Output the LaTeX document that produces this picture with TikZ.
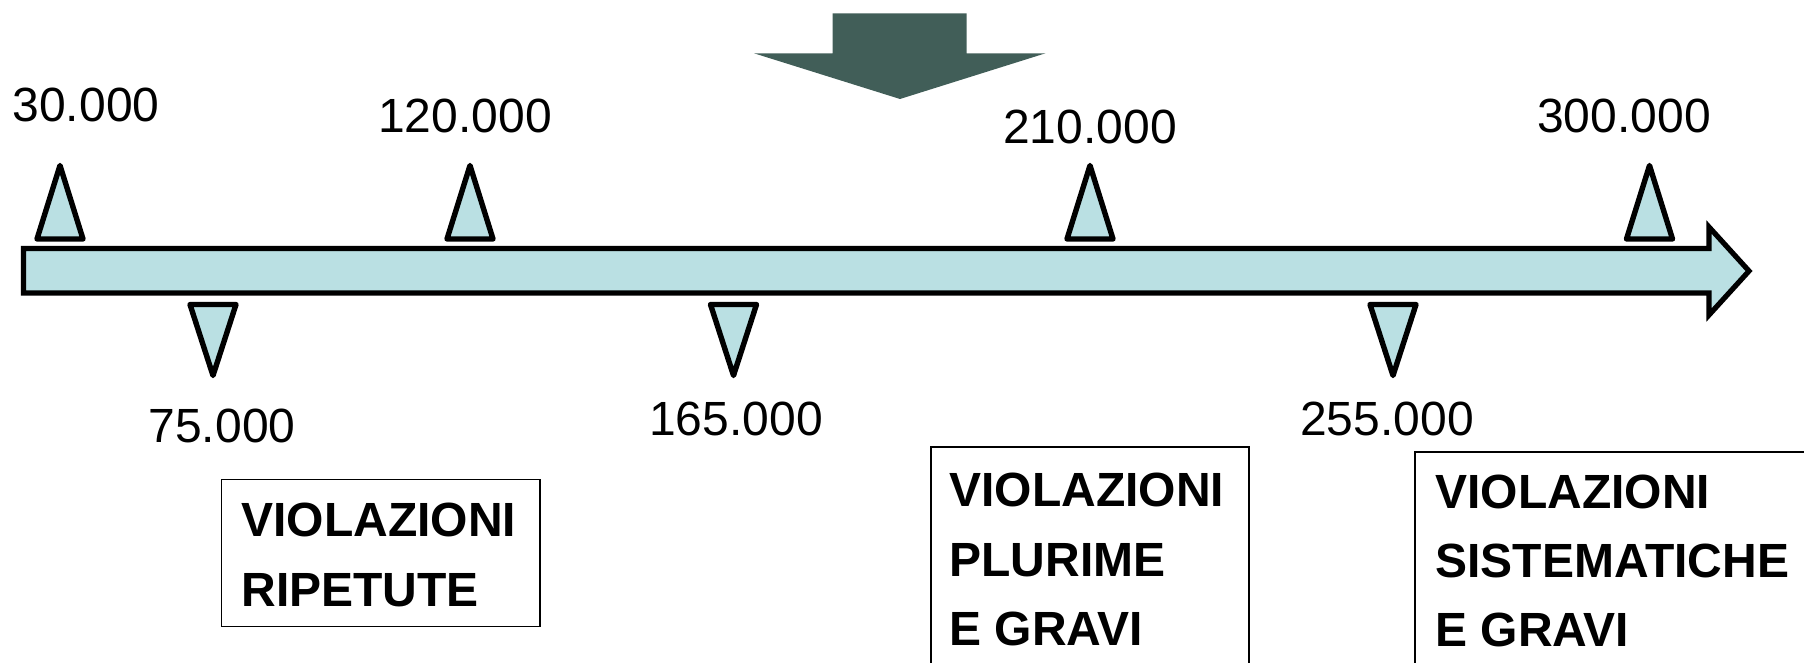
\documentclass[tikz,border=0pt]{standalone}
\usepackage{fontspec}
\setmainfont{Liberation Sans}
\definecolor{barfill}{RGB}{186,224,227}
\definecolor{bigarrow}{RGB}{65,94,88}
\begin{document}
\begin{tikzpicture}[x=0.5pt,y=-0.5pt,
  tl/.style={draw=black,line width=2.6pt,fill=barfill,line join=miter},
  tri/.style={draw=black,line width=2.7pt,fill=barfill,line join=round},
  num/.style={font=\fontsize{24}{28}\selectfont,inner sep=0pt,anchor=base},
  lbl/.style={font=\fontsize{24}{28}\selectfont\bfseries,inner sep=0pt,anchor=base west},
  frame/.style={draw=black,line width=0.75pt}]
\useasboundingbox (0,0) rectangle (1804,663);
\clip (0,0) rectangle (1804,663);
% big arrow
\fill[bigarrow] (832.7,13.3) -- (966.7,13.3) -- (966.7,53.3) -- (1045.5,53.3) -- (900,99) -- (754,53.3) -- (832.7,53.3) -- cycle;
% timeline
\draw[tl] (23.5,248.5) -- (1709,248.5) -- (1709,227) -- (1749,271) -- (1709,315) -- (1709,293) -- (23.5,293) -- cycle;
% up triangles
\foreach \cx in {60,470,1090,1649.5}{
  \draw[tri] (\cx,165.5) -- ({\cx+23},239) -- ({\cx-23},239) -- cycle;
}
% down triangles
\foreach \cx in {213,733.5,1393}{
  \draw[tri] ({\cx-23},304.5) -- ({\cx+23},304.5) -- (\cx,375.5) -- cycle;
}
% numbers
\node[num] (n30) at (86,122) {30.000};
\node[num] (n120) at (465,133) {120.000};
\node[num] (n210) at (1090,144) {210.000};
\node[num] (n300) at (1624,133) {300.000};
\node[num] (n75) at (222,442) {75.000};
\node[num] (n165) at (736,435) {165.000};
\node[num] (n255) at (1387,435) {255.000};
% boxes
\draw[frame] (221.7,479.3) rectangle (540,626.7);
\node[lbl] (b1a) at (241,536) {VIOLAZIONI};
\node[lbl] (b1b) at (241,606) {RIPETUTE};
\draw[frame] (931,447) rectangle (1249,700);
\node[lbl] (b2a) at (949,506) {VIOLAZIONI};
\node[lbl] (b2b) at (949,576) {PLURIME};
\node[lbl] (b2c) at (949,645) {E GRAVI};
\draw[frame] (1415,452) rectangle (1850,700);
\node[lbl] (b3a) at (1435,508) {VIOLAZIONI};
\node[lbl] (b3b) at (1435,577) {SISTEMATICHE};
\node[lbl] (b3c) at (1435,646) {E GRAVI};
\end{tikzpicture}
\end{document}
